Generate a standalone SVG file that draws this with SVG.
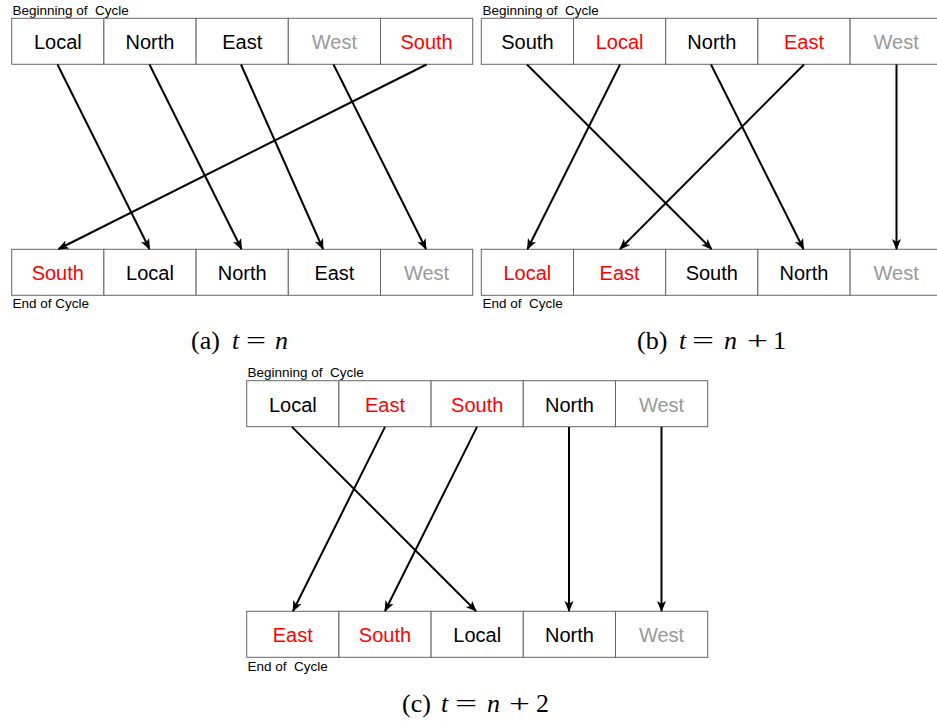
<svg xmlns="http://www.w3.org/2000/svg" width="937" height="721" viewBox="0 0 937 721">
<defs>
<style>
.cell{fill:#fff;stroke:#666;stroke-width:1}
.lbl{font-family:"Liberation Sans",Arial,sans-serif;font-size:20px;text-anchor:middle}
.k{fill:#000}.r{fill:#ff0000}.g{fill:#999}
.note{font-family:"Liberation Sans",Arial,sans-serif;font-size:13.5px;fill:#000;white-space:pre}
.cap{font-family:"Liberation Serif","Times New Roman",serif;font-size:26px;fill:#000}
.it{font-style:italic}
.conn line{stroke:#000;stroke-width:2;fill:none;marker-end:url(#ah)}
</style>
<marker id="ah" viewBox="0 0 11 11" refX="10" refY="5.5" markerWidth="11" markerHeight="11" markerUnits="userSpaceOnUse" orient="auto">
<path d="M0,1 L11,5.5 L0,10 L2.8,5.5 z" fill="#000"/>
</marker>
</defs>
<rect width="937" height="721" fill="#fff"/>

<!-- Panel a -->
<text class="note" x="12.5" y="15" xml:space="preserve">Beginning of  Cycle</text>
<g id="a-top-local"><rect class="cell" x="11.7" y="18.3" width="92.2" height="46"/><text class="lbl k" x="57.8" y="49.3">Local</text></g>
<g id="a-top-north"><rect class="cell" x="103.9" y="18.3" width="92.2" height="46"/><text class="lbl k" x="150" y="49.3">North</text></g>
<g id="a-top-east"><rect class="cell" x="196.1" y="18.3" width="92.2" height="46"/><text class="lbl k" x="242.2" y="49.3">East</text></g>
<g id="a-top-west"><rect class="cell" x="288.3" y="18.3" width="92.2" height="46"/><text class="lbl g" x="334.4" y="49.3">West</text></g>
<g id="a-top-south"><rect class="cell" x="380.5" y="18.3" width="92.2" height="46"/><text class="lbl r" x="426.6" y="49.3">South</text></g>

<g id="a-bot-south"><rect class="cell" x="11.7" y="249.3" width="92.2" height="46"/><text class="lbl r" x="57.8" y="280.3">South</text></g>
<g id="a-bot-local"><rect class="cell" x="103.9" y="249.3" width="92.2" height="46"/><text class="lbl k" x="150" y="280.3">Local</text></g>
<g id="a-bot-north"><rect class="cell" x="196.1" y="249.3" width="92.2" height="46"/><text class="lbl k" x="242.2" y="280.3">North</text></g>
<g id="a-bot-east"><rect class="cell" x="288.3" y="249.3" width="92.2" height="46"/><text class="lbl k" x="334.4" y="280.3">East</text></g>
<g id="a-bot-west"><rect class="cell" x="380.5" y="249.3" width="92.2" height="46"/><text class="lbl g" x="426.6" y="280.3">West</text></g>
<text class="note" x="12.5" y="308">End of Cycle</text>
<text class="cap"><tspan x="191" y="349">(a)</tspan><tspan class="it" x="232" y="349">t</tspan><tspan x="246" y="349" textLength="20" lengthAdjust="spacingAndGlyphs">=</tspan><tspan class="it" x="275" y="349">n</tspan></text>

<!-- Panel b -->
<text class="note" x="482.5" y="15" xml:space="preserve">Beginning of  Cycle</text>
<g id="b-top-south"><rect class="cell" x="481.3" y="18.3" width="92.2" height="46"/><text class="lbl k" x="527.4" y="49.3">South</text></g>
<g id="b-top-local"><rect class="cell" x="573.5" y="18.3" width="92.2" height="46"/><text class="lbl r" x="619.6" y="49.3">Local</text></g>
<g id="b-top-north"><rect class="cell" x="665.7" y="18.3" width="92.2" height="46"/><text class="lbl k" x="711.8" y="49.3">North</text></g>
<g id="b-top-east"><rect class="cell" x="757.9" y="18.3" width="92.2" height="46"/><text class="lbl r" x="804" y="49.3">East</text></g>
<g id="b-top-west"><rect class="cell" x="850.1" y="18.3" width="92.2" height="46"/><text class="lbl g" x="896.2" y="49.3">West</text></g>

<g id="b-bot-local"><rect class="cell" x="481.3" y="249.3" width="92.2" height="46"/><text class="lbl r" x="527.4" y="280.3">Local</text></g>
<g id="b-bot-east"><rect class="cell" x="573.5" y="249.3" width="92.2" height="46"/><text class="lbl r" x="619.6" y="280.3">East</text></g>
<g id="b-bot-south"><rect class="cell" x="665.7" y="249.3" width="92.2" height="46"/><text class="lbl k" x="711.8" y="280.3">South</text></g>
<g id="b-bot-north"><rect class="cell" x="757.9" y="249.3" width="92.2" height="46"/><text class="lbl k" x="804" y="280.3">North</text></g>
<g id="b-bot-west"><rect class="cell" x="850.1" y="249.3" width="92.2" height="46"/><text class="lbl g" x="896.2" y="280.3">West</text></g>
<text class="note" x="482.5" y="308" xml:space="preserve">End of  Cycle</text>
<text class="cap"><tspan x="637" y="349">(b)</tspan><tspan class="it" x="679" y="349">t</tspan><tspan x="692" y="349" textLength="22" lengthAdjust="spacingAndGlyphs">=</tspan><tspan class="it" x="724" y="349">n</tspan><tspan x="747" y="349" textLength="21" lengthAdjust="spacingAndGlyphs">+</tspan><tspan x="773" y="349">1</tspan></text>

<!-- Panel c -->
<text class="note" x="247.5" y="377" xml:space="preserve">Beginning of  Cycle</text>
<g id="c-top-local"><rect class="cell" x="246.7" y="380.7" width="92.2" height="46"/><text class="lbl k" x="292.8" y="411.7">Local</text></g>
<g id="c-top-east"><rect class="cell" x="338.9" y="380.7" width="92.2" height="46"/><text class="lbl r" x="385" y="411.7">East</text></g>
<g id="c-top-south"><rect class="cell" x="431.1" y="380.7" width="92.2" height="46"/><text class="lbl r" x="477.2" y="411.7">South</text></g>
<g id="c-top-north"><rect class="cell" x="523.3" y="380.7" width="92.2" height="46"/><text class="lbl k" x="569.4" y="411.7">North</text></g>
<g id="c-top-west"><rect class="cell" x="615.5" y="380.7" width="92.2" height="46"/><text class="lbl g" x="661.6" y="411.7">West</text></g>

<g id="c-bot-east"><rect class="cell" x="246.7" y="611.3" width="92.2" height="46"/><text class="lbl r" x="292.8" y="642.3">East</text></g>
<g id="c-bot-south"><rect class="cell" x="338.9" y="611.3" width="92.2" height="46"/><text class="lbl r" x="385" y="642.3">South</text></g>
<g id="c-bot-local"><rect class="cell" x="431.1" y="611.3" width="92.2" height="46"/><text class="lbl k" x="477.2" y="642.3">Local</text></g>
<g id="c-bot-north"><rect class="cell" x="523.3" y="611.3" width="92.2" height="46"/><text class="lbl k" x="569.4" y="642.3">North</text></g>
<g id="c-bot-west"><rect class="cell" x="615.5" y="611.3" width="92.2" height="46"/><text class="lbl g" x="661.6" y="642.3">West</text></g>
<text class="note" x="247.5" y="670.5" xml:space="preserve">End of  Cycle</text>
<text class="cap"><tspan x="402" y="712">(c)</tspan><tspan class="it" x="441" y="712">t</tspan><tspan x="455" y="712" textLength="22" lengthAdjust="spacingAndGlyphs">=</tspan><tspan class="it" x="487" y="712">n</tspan><tspan x="509" y="712" textLength="21" lengthAdjust="spacingAndGlyphs">+</tspan><tspan x="536" y="712">2</tspan></text>

<g id="connectors" class="conn">
<line x1="57.5" y1="64.5" x2="149.5" y2="249"/>
<line x1="149.5" y1="64.5" x2="241.5" y2="249"/>
<line x1="241" y1="64.5" x2="323" y2="249"/>
<line x1="333.5" y1="64.5" x2="426" y2="249"/>
<line x1="426.5" y1="64.5" x2="58.5" y2="249"/>

<line x1="527" y1="64.5" x2="711.5" y2="249"/>
<line x1="620" y1="64.5" x2="527.5" y2="249"/>
<line x1="711" y1="64.5" x2="803.5" y2="249"/>
<line x1="804" y1="64.5" x2="620" y2="249"/>
<line x1="896.5" y1="64.5" x2="896.5" y2="249"/>

<line x1="292" y1="426.9" x2="476" y2="611"/>
<line x1="385" y1="426.9" x2="293" y2="611"/>
<line x1="477" y1="426.9" x2="385" y2="611"/>
<line x1="569" y1="426.9" x2="569" y2="611"/>
<line x1="661.5" y1="426.9" x2="661.5" y2="611"/>
</g>
</svg>
